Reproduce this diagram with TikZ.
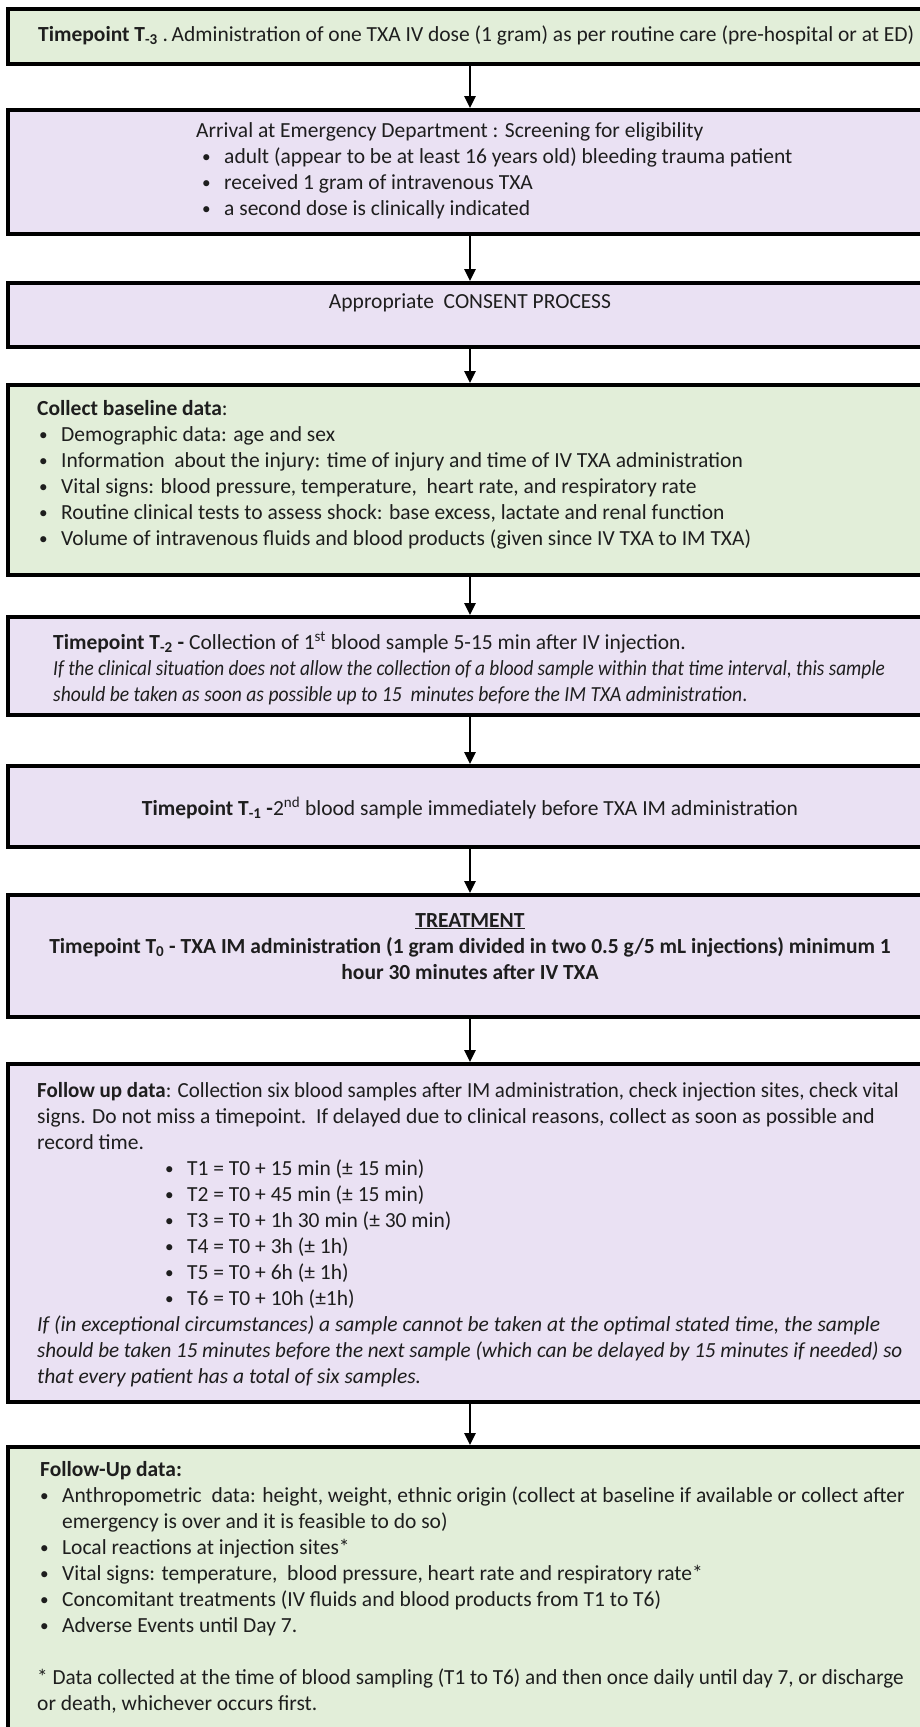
\documentclass[tikz,border=0pt]{standalone}
\usepackage{fontspec}
\setmainfont{Carlito}
\usetikzlibrary{arrows.meta}
\definecolor{boxgreen}{RGB}{226,238,217}
\definecolor{boxpurple}{RGB}{234,225,243}
\definecolor{txtcol}{RGB}{30,30,30}
\newcommand{\bul}{\makebox[22pt][l]{\raisebox{1pt}{\scalebox{0.8}{•}}}}
\newcommand{\narrow}[2]{\scalebox{#1}[1]{#2}}
\tikzset{
  flowbox/.style={draw=black, line width=4pt, inner sep=0pt, minimum width=924pt, anchor=north},
  gbox/.style={flowbox, fill=boxgreen},
  pbox/.style={flowbox, fill=boxpurple},
  txt/.style={inner sep=0pt, anchor=base west, text=txtcol, font=\fontsize{21.5}{26}\selectfont},
  ctxt/.style={txt, anchor=base},
  conn/.style={line width=2.5pt, -{Triangle[width=11pt,length=12pt]}}
}
\begin{document}
\begin{tikzpicture}[x=1pt,y=-1pt]
\useasboundingbox (0,0) rectangle (920,1727);
\clip (0,0) rectangle (920,1727);
\fill[white] (0,0) rectangle (920,1727);
% boxes
\node[gbox, minimum height=55pt] (b1) at (470,7) {};
\node[pbox, minimum height=124pt] (b2) at (470,108) {};
\node[pbox, minimum height=64pt] (b3) at (470,281) {};
\node[gbox, minimum height=190pt] (b4) at (470,383) {};
\node[pbox, minimum height=98pt] (b5) at (470,615) {};
\node[pbox, minimum height=81pt] (b6) at (470,764) {};
\node[pbox, minimum height=122pt] (b7) at (470,893) {};
\node[pbox, minimum height=338pt] (b8) at (470,1062) {};
\node[gbox, minimum height=330pt] (b9) at (470,1445) {};
% connectors
\draw[conn] (b1.south) -- (b2.north);
\draw[conn] (b2.south) -- (b3.north);
\draw[conn] (b3.south) -- (b4.north);
\draw[conn] (b4.south) -- (b5.north);
\draw[conn] (b5.south) -- (b6.north);
\draw[conn] (b6.south) -- (b7.north);
\draw[conn] (b7.south) -- (b8.north);
\draw[conn] (b8.south) -- (b9.north);
% box 1
\node[txt] (t1) at (38,41) {\textbf{Timepoint T\textsubscript{-3}} .\,Administration of one TXA IV dose (1 gram) as per routine care (pre-hospital or at ED)};
% box 2
\node[txt] (t2a) at (196,137) {Arrival at Emergency Department : Screening for eligibility};
\node[txt] (t2b) at (202,163) {\bul adult (appear to be at least 16 years old) bleeding trauma patient};
\node[txt] (t2c) at (202,189) {\bul received 1 gram of intravenous TXA};
\node[txt] (t2d) at (202,215) {\bul a second dose is clinically indicated};
% box 3
\node[ctxt] (t3) at (470,308) {Appropriate\ \ CONSENT PROCESS};
% box 4
\node[txt] (t4a) at (37,415) {\textbf{Collect baseline data}:};
\node[txt] (t4b) at (39,441) {\bul Demographic data: age and sex};
\node[txt] (t4c) at (39,467) {\bul Information\ \ about the injury: time of injury and time of IV TXA administration};
\node[txt] (t4d) at (39,493) {\bul Vital signs: blood pressure, temperature,\ \ heart rate, and respiratory rate};
\node[txt] (t4e) at (39,519) {\bul Routine clinical tests to assess shock: base excess, lactate and renal function};
\node[txt] (t4f) at (39,545) {\bul Volume of intravenous fluids and blood products (given since IV TXA to IM TXA)};
% box 5
\node[txt] (t5a) at (53,649) {\textbf{Timepoint T\textsubscript{-2} -} Collection of 1\textsuperscript{st} blood sample 5-15 min after IV injection.};
\node[txt] (t5b) at (53,675) {\narrow{0.895}{\textit{If the clinical situation does not allow the collection of a blood sample within that time interval, this sample}}};
\node[txt] (t5c) at (53,701) {\narrow{0.91}{\textit{should be taken as soon as possible up to 15\ \ minutes before the IM TXA administration}.}};
% box 6
\node[ctxt] (t6) at (470,815) {\textbf{Timepoint T\textsubscript{-1} -}2\textsuperscript{nd} blood sample immediately before TXA IM administration};
% box 7
\node[ctxt] (t7a) at (470,927) {\textbf{\underline{TREATMENT}}};
\node[ctxt] (t7b) at (470,953) {\textbf{Timepoint T\textsubscript{0} - TXA IM administration (1 gram divided in two 0.5 g/5 mL injections) minimum 1}};
\node[ctxt] (t7c) at (470,979) {\textbf{hour 30 minutes after IV TXA}};
% box 8
\node[txt] (t8a) at (37,1097) {\narrow{0.975}{\textbf{Follow up data}: Collection six blood samples after IM administration, check injection sites, check vital}};
\node[txt] (t8b) at (37,1123) {signs. Do not miss a timepoint.\ \ If delayed due to clinical reasons, collect as soon as possible and};
\node[txt] (t8c) at (37,1149) {record time.};
\node[txt] (t8d) at (165,1175) {\bul T1 = T0 + 15 min (± 15 min)};
\node[txt] (t8e) at (165,1201) {\bul T2 = T0 + 45 min (± 15 min)};
\node[txt] (t8f) at (165,1227) {\bul T3 = T0 + 1h 30 min (± 30 min)};
\node[txt] (t8g) at (165,1253) {\bul T4 = T0 + 3h (± 1h)};
\node[txt] (t8h) at (165,1279) {\bul T5 = T0 + 6h (± 1h)};
\node[txt] (t8i) at (165,1305) {\bul T6 = T0 + 10h (±1h)};
\node[txt] (t8j) at (37,1331) {\textit{If (in exceptional circumstances) a sample cannot be taken at the optimal stated time, the sample}};
\node[txt] (t8k) at (37,1357) {\narrow{0.98}{\textit{should be taken 15 minutes before the next sample (which can be delayed by 15 minutes if needed) so}}};
\node[txt] (t8l) at (37,1383) {\textit{that every patient has a total of six samples.}};
% box 9
\node[txt] (t9a) at (40,1476) {\textbf{Follow-Up data:}};
\node[txt] (t9b) at (40,1502) {\bul Anthropometric\ \ data: height, weight, ethnic origin (collect at baseline if available or collect after};
\node[txt] (t9c) at (62,1528) {emergency is over and it is feasible to do so)};
\node[txt] (t9d) at (40,1554) {\bul Local reactions at injection sites*};
\node[txt] (t9e) at (40,1580) {\bul Vital signs: temperature,\ \ blood pressure, heart rate and respiratory rate*};
\node[txt] (t9f) at (40,1606) {\bul Concomitant treatments (IV fluids and blood products from T1 to T6)};
\node[txt] (t9g) at (40,1632) {\bul Adverse Events until Day 7.};
\node[txt] (t9h) at (37,1684) {\narrow{0.985}{* Data collected at the time of blood sampling (T1 to T6) and then once daily until day 7, or discharge}};
\node[txt] (t9i) at (37,1710) {or death, whichever occurs first.};
\end{tikzpicture}
\end{document}
